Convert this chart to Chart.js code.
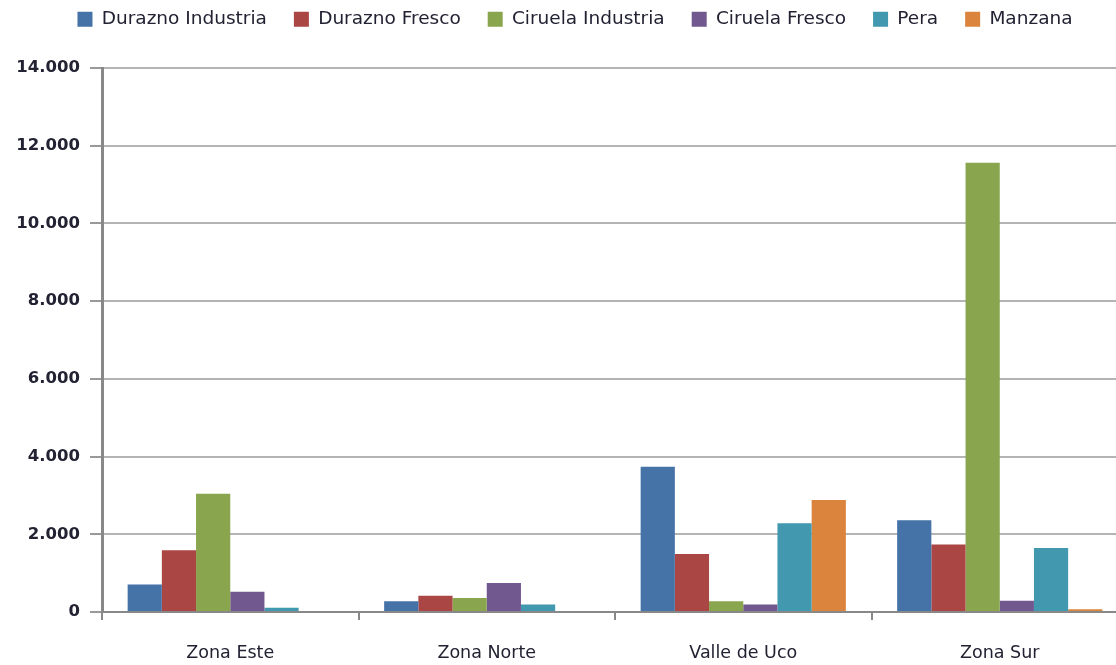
<!DOCTYPE html>
<html>
<head>
<meta charset="utf-8">
<script src="https://cdn.jsdelivr.net/npm/chart.js@4.4.1/dist/chart.umd.min.js"></script>
<style>
  html, body { margin: 0; padding: 0; overflow: hidden; background: #fff; }
</style>
</head>
<body>
<canvas id="myChart" width="1130" height="665"></canvas>
<script>
const zones = ["Zona Este", "Zona Norte", "Valle de Uco", "Zona Sur"];
const durazIndustria = [710, 275, 3740, 2360];
const durazFresco = [1590, 420, 1490, 1740];
const cirIndustria = [3040, 360, 275, 11560];
const cirFresco = [520, 745, 190, 290];
const pera = [110, 190, 2285, 1650];
const manzana = [0, 0, 2885, 70];
const yTicks = [0, 2000, 4000, 6000, 8000, 10000, 12000, 14000];

const seriesNames = ["Durazno Industria", "Durazno Fresco", "Ciruela Industria", "Ciruela Fresco", "Pera", "Manzana"];
const seriesData = [durazIndustria, durazFresco, cirIndustria, cirFresco, pera, manzana];
const barColors = ["#4572A7", "#AA4643", "#89A54E", "#71588F", "#4198AF", "#DB843D"];

function fmt(v) {
  return v.toString().replace(/\B(?=(\d{3})+(?!\d))/g, ".");
}

function initializeChart() {
  let datasets = seriesNames.map(function (name, i) {
    return {
      label: name,
      data: seriesData[i],
      backgroundColor: barColors[i],
      borderWidth: 0,
      categoryPercentage: 0.8,
      barPercentage: 1.0,
    };
  });

  new Chart("myChart", {
    type: "bar",
    data: { labels: zones, datasets: datasets },
    options: {
      responsive: false,
      animation: false,
      devicePixelRatio: 1,
      layout: { padding: { left: 0, right: 2, top: -17, bottom: 0 } },
      plugins: {
        tooltip: { enabled: false },
        legend: {
          position: "top",
          labels: {
            boxWidth: 15,
            boxHeight: 15,
            padding: 27,
            color: "#222233",
            font: { family: "DejaVu Sans", size: 18.5 },
          },
        },
      },
      scales: {
        x: {
          grid: {
            offset: true,
            drawOnChartArea: false,
            tickLength: 8,
            color: "#888888",
            lineWidth: 2,
          },
          border: { color: "#888888", width: 2 },
          ticks: {
            padding: 23,
            color: "#222233",
            font: { family: "DejaVu Sans", size: 17.5 },
          },
          afterFit: function (scale) { scale.height = 53; },
        },
        y: {
          min: 0,
          max: 14000,
          afterBuildTicks: function (scale) {
            scale.ticks = yTicks.map(function (v) { return { value: v }; });
          },
          grid: {
            color: "#b4b4b4",
            lineWidth: 2,
            tickLength: 12,
            tickColor: "#999999",
          },
          border: { color: "#888888", width: 3 },
          ticks: {
            padding: 10,
            color: "#222233",
            font: { family: "DejaVu Sans", size: 16.5, weight: "bold" },
            callback: function (v) { return fmt(v); },
          },
          afterFit: function (scale) { scale.width = 102; },
        },
      },
    },
    plugins: [{
      id: "legendHeight",
      beforeInit: function (chart) {
        const origFit = chart.legend.fit;
        chart.legend.fit = function () {
          origFit.bind(chart.legend)();
          this.height = 85;
        };
      },
      afterLayout: function (chart) {
        // legend in the original sits a bit right of centre
        chart.legend.left += 11;
        chart.legend.right += 11;
      },
    }],
  });
}
initializeChart();
</script>
</body>
</html>
